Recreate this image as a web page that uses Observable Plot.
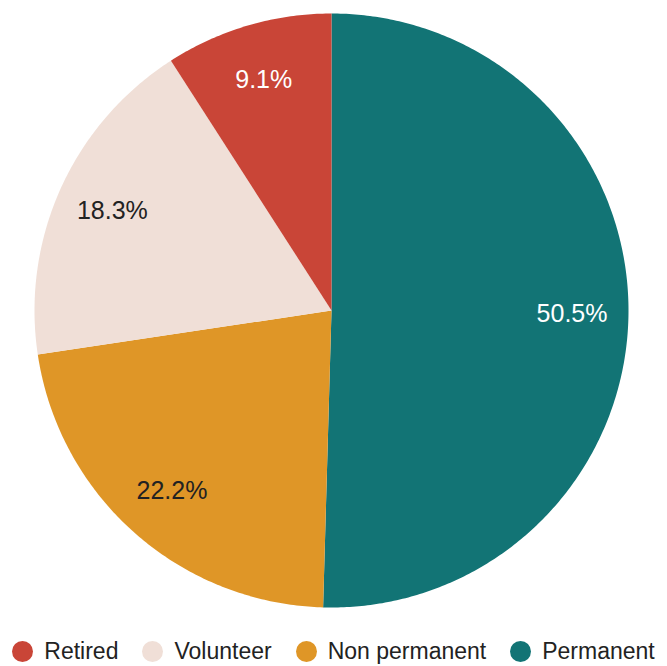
<!DOCTYPE html>
<html>
<head>
<meta charset="utf-8">
<script src="https://cdn.jsdelivr.net/npm/d3@7"></script>
<script src="https://cdn.jsdelivr.net/npm/@observablehq/plot@0.6"></script>
<style>
  html, body { margin: 0; padding: 0; background: #fff; }
  body { width: 667px; height: 666px; font-family: "Liberation Sans", Arial, Helvetica, sans-serif; }
  #chart svg { display: block; }
  #legend { display: flex; justify-content: center; align-items: center; margin-top: 18px; font-size: 23px; line-height: 26px; color: #222; }
  .item { display: flex; align-items: center; margin: 0 12px; }
  .sw { width: 21px; height: 21px; border-radius: 50%; margin-right: 11px; }
</style>
</head>
<body>
<div id="chart"></div>
<div id="legend"></div>
<script>
const categories = ["Permanent", "Non permanent", "Volunteer", "Retired"];
const values = [50.5, 22.2, 18.3, 9.1];
const colors = ["#127475", "#df9627", "#f0dfd7", "#c94537"];
const labelColors = ["#ffffff", "#222222", "#222222", "#ffffff"];
const legendOrder = ["Retired", "Volunteer", "Non permanent", "Permanent"];

const pie = d3.pie().sort(null).value(d => d)(values);

// Build polygon rows for each slice (unit coordinates, angle clockwise from top)
const rows = [];
pie.forEach((p, i) => {
  const n = Math.max(2, Math.ceil((p.endAngle - p.startAngle) / 0.01));
  rows.push({cat: categories[i], x: 0, y: 0});
  for (let k = 0; k <= n; k++) {
    const a = p.startAngle + (p.endAngle - p.startAngle) * k / n;
    rows.push({cat: categories[i], x: Math.sin(a), y: Math.cos(a)});
  }
  rows.push({cat: categories[i], x: 0, y: 0});
});

const labels = pie.map((p, i) => {
  const a = (p.startAngle + p.endAngle) / 2;
  const r = 0.81;
  return {cat: categories[i], text: values[i].toFixed(1) + "%", x: r * Math.sin(a), y: r * Math.cos(a), color: labelColors[i]};
});

const cx = 331, cy = 310, R = 297;
const chart = Plot.plot({
  width: 667,
  height: 620,
  margin: 0,
  x: {domain: [-1, 1], range: [cx - R, cx + R], axis: null},
  y: {domain: [-1, 1], range: [cy + R, cy - R], axis: null},
  color: {domain: categories, range: colors},
  style: {fontFamily: '"Liberation Sans", Arial, Helvetica, sans-serif'},
  marks: [
    Plot.line(rows, {x: "x", y: "y", z: "cat", fill: "cat", stroke: null, curve: "linear"}),
    Plot.text(labels, {x: "x", y: "y", text: "text", fill: d => d.color, fontSize: 25})
  ]
});
document.getElementById("chart").appendChild(chart);

const legend = document.getElementById("legend");
legendOrder.forEach(c => {
  const it = document.createElement("div");
  it.className = "item";
  const sw = document.createElement("div");
  sw.className = "sw";
  sw.style.background = colors[categories.indexOf(c)];
  const t = document.createElement("span");
  t.textContent = c;
  it.appendChild(sw); it.appendChild(t);
  legend.appendChild(it);
});
</script>
</body>
</html>
